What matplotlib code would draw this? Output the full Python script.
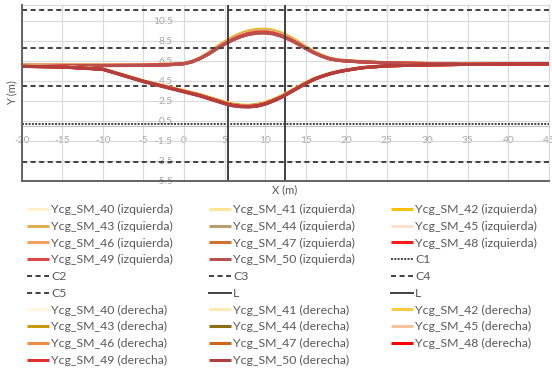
import matplotlib
matplotlib.use("Agg")
import matplotlib.pyplot as plt

plt.rcParams['font.family'] = ['Lato', 'DejaVu Sans']
plt.rcParams['axes.unicode_minus'] = False

# ---------------- data ----------------
x_pos = [-20, -15, -10, -5, -2, 0, 1, 2, 3, 4, 5, 6, 7, 8, 9, 10, 11, 12, 13, 14,
         15, 16, 17, 18, 19, 20, 22, 25, 30, 35, 40, 45]

series_ids = ["40", "41", "42", "43", "44", "45", "46", "47", "48", "49", "50"]

# izquierda (upper trajectory)
y_izq_40 = [6.08, 6.08, 6.08, 6.10, 6.15, 6.21, 6.42, 6.80, 7.28, 7.87, 8.40, 8.88, 9.26, 9.52, 9.66, 9.69, 9.58, 9.31, 8.94, 8.45, 7.92, 7.44, 7.04, 6.74, 6.58, 6.51, 6.40, 6.29, 6.23, 6.21, 6.20, 6.20]
y_izq_41 = [6.07, 6.07, 6.07, 6.09, 6.14, 6.21, 6.42, 6.79, 7.27, 7.85, 8.38, 8.86, 9.23, 9.49, 9.63, 9.65, 9.55, 9.28, 8.91, 8.43, 7.90, 7.43, 7.03, 6.74, 6.58, 6.50, 6.40, 6.29, 6.23, 6.21, 6.20, 6.20]
y_izq_42 = [6.07, 6.07, 6.07, 6.09, 6.14, 6.21, 6.42, 6.78, 7.26, 7.83, 8.36, 8.83, 9.20, 9.46, 9.60, 9.62, 9.51, 9.25, 8.88, 8.41, 7.89, 7.41, 7.02, 6.73, 6.57, 6.50, 6.39, 6.29, 6.22, 6.20, 6.20, 6.20]
y_izq_43 = [6.06, 6.06, 6.06, 6.08, 6.13, 6.20, 6.41, 6.77, 7.24, 7.81, 8.33, 8.79, 9.15, 9.41, 9.55, 9.57, 9.46, 9.21, 8.84, 8.38, 7.86, 7.39, 7.01, 6.72, 6.57, 6.49, 6.39, 6.29, 6.22, 6.20, 6.20, 6.20]
y_izq_44 = [6.06, 6.06, 6.06, 6.08, 6.13, 6.20, 6.41, 6.76, 7.22, 7.78, 8.29, 8.75, 9.11, 9.36, 9.50, 9.52, 9.42, 9.16, 8.80, 8.34, 7.83, 7.38, 7.00, 6.71, 6.56, 6.49, 6.39, 6.28, 6.22, 6.20, 6.20, 6.20]
y_izq_45 = [6.05, 6.05, 6.05, 6.07, 6.12, 6.20, 6.40, 6.75, 7.20, 7.75, 8.25, 8.70, 9.05, 9.30, 9.43, 9.45, 9.35, 9.10, 8.75, 8.30, 7.80, 7.35, 6.98, 6.70, 6.55, 6.48, 6.38, 6.28, 6.22, 6.20, 6.20, 6.20]
y_izq_46 = [6.04, 6.04, 6.04, 6.06, 6.11, 6.20, 6.40, 6.74, 7.19, 7.73, 8.23, 8.67, 9.02, 9.27, 9.40, 9.42, 9.32, 9.07, 8.72, 8.28, 7.78, 7.34, 6.97, 6.69, 6.55, 6.48, 6.38, 6.28, 6.22, 6.20, 6.20, 6.20]
y_izq_47 = [6.03, 6.03, 6.03, 6.05, 6.10, 6.20, 6.39, 6.73, 7.17, 7.71, 8.20, 8.64, 8.98, 9.22, 9.35, 9.37, 9.27, 9.03, 8.68, 8.25, 7.76, 7.32, 6.96, 6.69, 6.54, 6.47, 6.37, 6.28, 6.21, 6.19, 6.19, 6.19]
y_izq_48 = [6.02, 6.02, 6.02, 6.04, 6.09, 6.20, 6.39, 6.72, 7.16, 7.68, 8.16, 8.60, 8.93, 9.17, 9.30, 9.32, 9.22, 8.98, 8.64, 8.21, 7.73, 7.30, 6.95, 6.68, 6.53, 6.47, 6.37, 6.27, 6.21, 6.19, 6.19, 6.19]
y_izq_49 = [6.01, 6.01, 6.01, 6.03, 6.08, 6.20, 6.39, 6.72, 7.15, 7.67, 8.14, 8.57, 8.90, 9.14, 9.26, 9.28, 9.19, 8.95, 8.62, 8.19, 7.72, 7.29, 6.94, 6.67, 6.53, 6.46, 6.37, 6.27, 6.21, 6.19, 6.19, 6.19]
y_izq_50 = [6.00, 6.00, 6.00, 6.02, 6.07, 6.19, 6.38, 6.71, 7.13, 7.65, 8.12, 8.54, 8.87, 9.11, 9.23, 9.25, 9.16, 8.92, 8.59, 8.17, 7.70, 7.28, 6.93, 6.66, 6.52, 6.46, 6.36, 6.27, 6.21, 6.19, 6.19, 6.19]

# derecha (lower trajectory)
y_der_40 = [5.97, 5.92, 5.66, 4.49, 3.91, 3.52, 3.32, 3.13, 2.88, 2.64, 2.40, 2.20, 2.10, 2.08, 2.15, 2.35, 2.64, 2.98, 3.42, 3.86, 4.30, 4.69, 4.98, 5.22, 5.42, 5.56, 5.81, 5.98, 6.08, 6.13, 6.16, 6.18]
y_der_41 = [5.97, 5.91, 5.66, 4.48, 3.90, 3.50, 3.31, 3.11, 2.87, 2.62, 2.38, 2.18, 2.08, 2.06, 2.13, 2.33, 2.62, 2.96, 3.41, 3.85, 4.29, 4.68, 4.97, 5.22, 5.41, 5.56, 5.81, 5.98, 6.08, 6.13, 6.16, 6.18]
y_der_42 = [5.96, 5.90, 5.66, 4.48, 3.88, 3.49, 3.29, 3.10, 2.85, 2.60, 2.36, 2.16, 2.06, 2.04, 2.11, 2.31, 2.60, 2.95, 3.39, 3.84, 4.28, 4.67, 4.97, 5.21, 5.41, 5.56, 5.80, 5.98, 6.08, 6.13, 6.16, 6.18]
y_der_43 = [5.96, 5.89, 5.65, 4.47, 3.87, 3.48, 3.28, 3.08, 2.83, 2.59, 2.34, 2.14, 2.04, 2.02, 2.09, 2.29, 2.59, 2.93, 3.38, 3.82, 4.27, 4.67, 4.96, 5.21, 5.41, 5.56, 5.80, 5.98, 6.08, 6.13, 6.16, 6.18]
y_der_44 = [5.95, 5.89, 5.65, 4.46, 3.86, 3.46, 3.26, 3.07, 2.82, 2.57, 2.32, 2.12, 2.02, 2.00, 2.07, 2.27, 2.57, 2.92, 3.36, 3.81, 4.26, 4.66, 4.96, 5.20, 5.40, 5.55, 5.80, 5.98, 6.08, 6.13, 6.16, 6.18]
y_der_45 = [5.95, 5.88, 5.65, 4.45, 3.85, 3.45, 3.25, 3.05, 2.80, 2.55, 2.30, 2.10, 2.00, 1.98, 2.05, 2.25, 2.55, 2.90, 3.35, 3.80, 4.25, 4.65, 4.95, 5.20, 5.40, 5.55, 5.80, 5.98, 6.08, 6.13, 6.16, 6.18]
y_der_46 = [5.94, 5.88, 5.65, 4.44, 3.84, 3.44, 3.24, 3.03, 2.78, 2.53, 2.28, 2.08, 1.98, 1.96, 2.03, 2.23, 2.53, 2.88, 3.34, 3.79, 4.24, 4.64, 4.94, 5.20, 5.40, 5.55, 5.80, 5.98, 6.08, 6.13, 6.16, 6.18]
y_der_47 = [5.94, 5.87, 5.65, 4.43, 3.83, 3.42, 3.22, 3.02, 2.77, 2.51, 2.26, 2.06, 1.96, 1.94, 2.01, 2.21, 2.51, 2.87, 3.32, 3.78, 4.23, 4.64, 4.94, 5.19, 5.39, 5.54, 5.80, 5.98, 6.08, 6.13, 6.16, 6.18]
y_der_48 = [5.93, 5.87, 5.64, 4.43, 3.82, 3.41, 3.21, 3.00, 2.75, 2.50, 2.24, 2.04, 1.94, 1.92, 1.99, 2.19, 2.50, 2.85, 3.31, 3.77, 4.22, 4.63, 4.93, 5.19, 5.39, 5.54, 5.80, 5.98, 6.08, 6.13, 6.16, 6.18]
y_der_49 = [5.93, 5.86, 5.64, 4.42, 3.81, 3.40, 3.19, 2.99, 2.73, 2.48, 2.22, 2.02, 1.92, 1.90, 1.97, 2.17, 2.48, 2.84, 3.30, 3.75, 4.21, 4.62, 4.93, 5.18, 5.39, 5.54, 5.79, 5.98, 6.08, 6.13, 6.16, 6.18]
y_der_50 = [5.93, 5.86, 5.64, 4.41, 3.79, 3.38, 3.18, 2.97, 2.72, 2.46, 2.21, 2.00, 1.90, 1.88, 1.95, 2.15, 2.46, 2.82, 3.28, 3.74, 4.20, 4.61, 4.92, 5.18, 5.38, 5.54, 5.79, 5.98, 6.08, 6.13, 6.16, 6.18]

y_izq = [y_izq_40, y_izq_41, y_izq_42, y_izq_43, y_izq_44, y_izq_45,
         y_izq_46, y_izq_47, y_izq_48, y_izq_49, y_izq_50]
y_der = [y_der_40, y_der_41, y_der_42, y_der_43, y_der_44, y_der_45,
         y_der_46, y_der_47, y_der_48, y_der_49, y_der_50]

# lane boundary lines
c_names = ["C1", "C2", "C3", "C4", "C5"]
c_levels = [0.2, -3.6, 4.0, 7.8, 11.6]
c_x = [-20, 45]

# vertical reference lines
l_names = ["L", "L"]
l_x = [5.4, 12.4]
l_y = [-5.5, 12.05]

x_ticks = [-20, -15, -10, -5, 0, 5, 10, 15, 20, 25, 30, 35, 40, 45]
y_ticks = [-5.5, -3.5, -1.5, 0.5, 2.5, 4.5, 6.5, 8.5, 10.5]

# ---------------- styles ----------------
izq_colors = ['#FFF2CC', '#FFE699', '#FFC000', '#E0B050', '#B8A070', '#FBE0CF',
              '#F4A060', '#D2702E', '#FF1A1A', '#E04848', '#B85050']
der_colors = ['#FFF6DC', '#FFEBB0', '#FFCC40', '#C89B10', '#8C6D10', '#F8C4A0',
              '#F08A45', '#D0661C', '#FF0000', '#E03030', '#B04040']
c_styles = [(0, (1.0, 0.7)), (0, (2.6, 1.8)), (0, (2.6, 1.8)), (0, (2.6, 1.8)), (0, (2.6, 1.8))]
dark = '#404040'
grid_c = '#D9D9D9'
tick_c = '#A6A6A6'
text_c = '#595959'

W, H = 552, 373
fig = plt.figure(figsize=(W / 100, H / 100), dpi=100)
ax = fig.add_axes([21.7 / W, 1 - 181 / H, (549 - 21.7) / W, (181 - 5) / H])

handles = []
labels = []
for sid, ys, col in zip(series_ids, y_izq, izq_colors):
    ln, = ax.plot(x_pos, ys, color=col, lw=2.2, solid_capstyle='butt', zorder=3)
    handles.append(ln)
    labels.append(f"Ycg_SM_{sid} (izquierda)")
for name, lev, ls in zip(c_names, c_levels, c_styles):
    ln, = ax.plot(c_x, [lev, lev], color=dark, lw=1.4, linestyle=ls, zorder=3)
    handles.append(ln)
    labels.append(name)
for name, xv in zip(l_names, l_x):
    ln, = ax.plot([xv, xv], l_y, color=dark, lw=1.4, zorder=3)
    handles.append(ln)
    labels.append(name)
for sid, ys, col in zip(series_ids, y_der, der_colors):
    ln, = ax.plot(x_pos, ys, color=col, lw=2.2, solid_capstyle='butt', zorder=3)
    handles.append(ln)
    labels.append(f"Ycg_SM_{sid} (derecha)")

ax.set_xlim(-20, 45)
ax.set_ylim(-5.5, 12.05)
ax.set_xticks(x_ticks)
ax.set_xticklabels([str(v) for v in x_ticks])
ax.set_yticks(y_ticks)
ax.set_yticklabels([f"{v:.1f}" for v in y_ticks])
ax.grid(True, color=grid_c, lw=0.8)
ax.set_axisbelow('line')

ax.spines['left'].set_position(('data', 0))
ax.spines['bottom'].set_position(('data', 0))
ax.spines['left'].set_color(grid_c)
ax.spines['bottom'].set_color('#BFBFBF')
ax.spines['top'].set_color(grid_c)
ax.spines['right'].set_color(grid_c)
for s in ax.spines.values():
    s.set_linewidth(0.8)
ax.tick_params(axis='both', length=0, labelcolor=tick_c, labelsize=7.3)
ax.tick_params(axis='x', pad=7)
ax.tick_params(axis='y', pad=8)

# dark frame edges on left and bottom
ax.plot([0, 0], [0, 1], transform=ax.transAxes, color='#595959', lw=1.3, clip_on=False, zorder=4)
ax.plot([0, 1], [0, 0], transform=ax.transAxes, color='#595959', lw=1.3, clip_on=False, zorder=4)

fig.text(285 / W, 1 - 190 / H, "X (m)", ha='center', va='center', fontsize=8,
         color=text_c)
fig.text(12 / W, 1 - 93 / H, "Y (m)", ha='center', va='center', fontsize=8,
         color=text_c, rotation=90)

# legend: row-major order in 3 columns
order = list(range(0, 29, 3)) + list(range(1, 29, 3)) + list(range(2, 29, 3))
lh = [handles[i] for i in order]
ll = [labels[i] for i in order]
fig.legend(lh, ll, ncol=3, loc='upper left', bbox_to_anchor=(27 / W, 1 - 204 / H),
           frameon=False, fontsize=8.8, handlelength=1.8, handletextpad=0.2,
           columnspacing=2.9, labelspacing=0.47, borderaxespad=0, borderpad=0,
           labelcolor=text_c)

fig.savefig("out.png", dpi=100)
